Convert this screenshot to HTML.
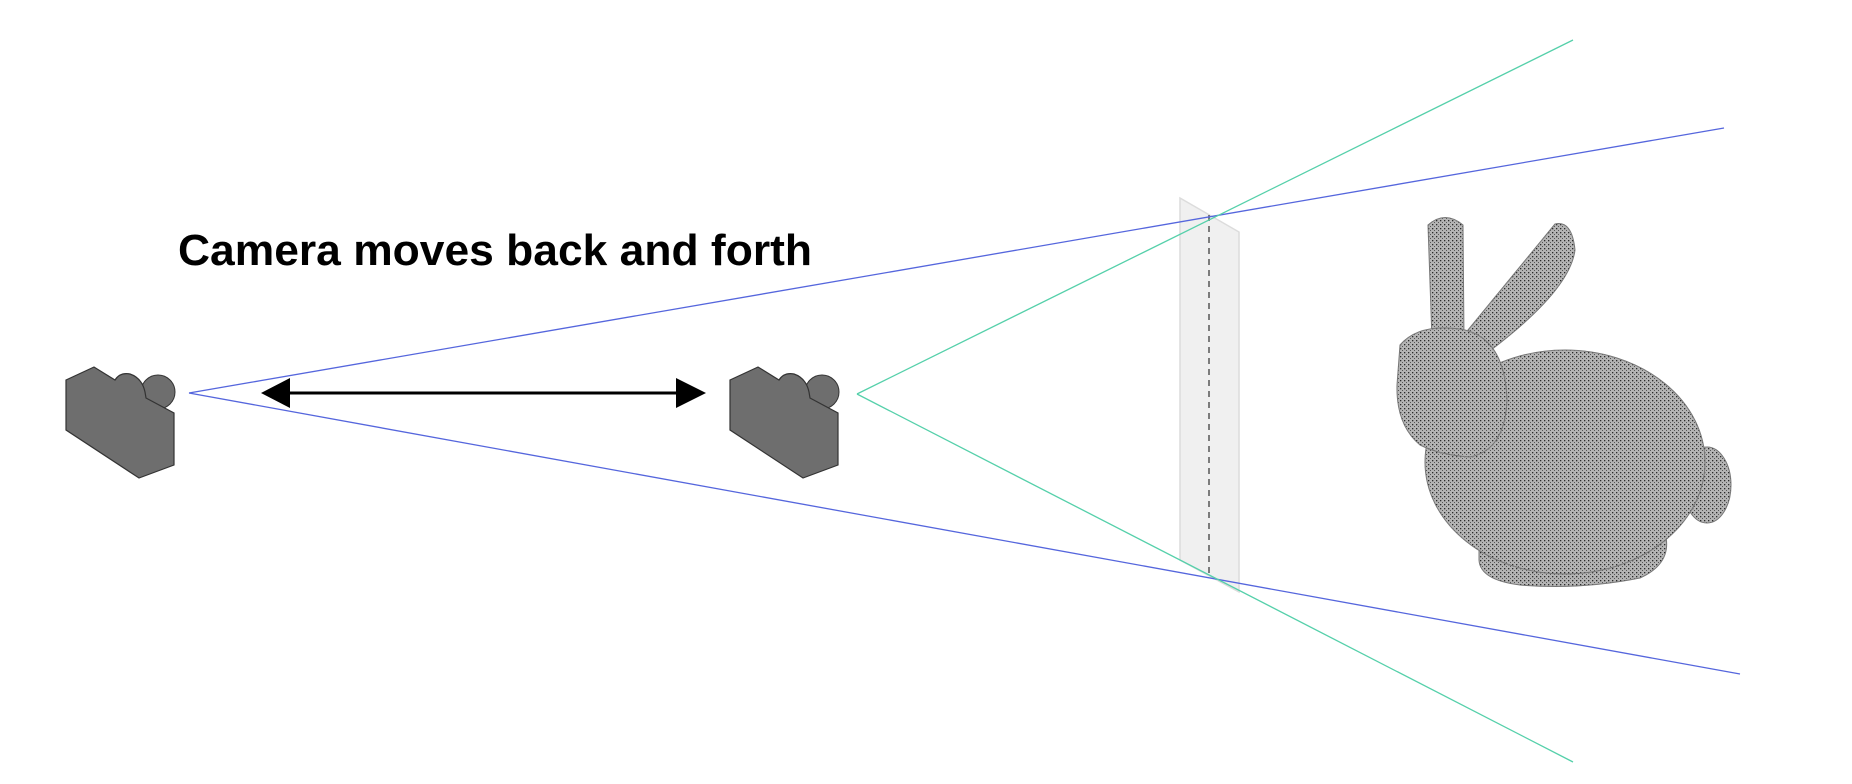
<!DOCTYPE html>
<html><head><meta charset="utf-8"><style>
html,body{margin:0;padding:0;background:#fff;width:1852px;height:784px;overflow:hidden}
</style></head><body>
<svg width="1852" height="784" viewBox="0 0 1852 784" xmlns="http://www.w3.org/2000/svg">
<defs>
<pattern id="dots" width="4" height="4" patternUnits="userSpaceOnUse">
<rect width="4" height="4" fill="#b4b4b4"/>
<rect x="0" y="0" width="1.3" height="1.3" fill="#2a2a2a"/>
<rect x="2" y="2" width="1" height="1" fill="#555"/>
</pattern>
<g id="cam">
<circle cx="158" cy="392" r="17" fill="#6e6e6e" stroke="#333" stroke-width="1"/>
<path d="M66,380 L94,367 L115,380 Q120,372 130,374 Q142,378 145,392 L146,398 L174,413 L174,465 L139,478 L66,430 Z" fill="#6e6e6e" stroke="#333" stroke-width="1.2"/>
</g>
</defs>
<polygon points="1180,198 1239,232 1239,592 1180,560" fill="#f0f0f0" stroke="#dcdcdc" stroke-width="1.5"/>
<line x1="1209" y1="215" x2="1209" y2="578" stroke="#555" stroke-width="1.5" stroke-dasharray="6,5"/>
<line x1="189" y1="393" x2="1724" y2="128" stroke="#5566dd" stroke-width="1.3"/>
<line x1="189" y1="393" x2="1740" y2="674" stroke="#5566dd" stroke-width="1.3"/>
<line x1="857" y1="394" x2="1573" y2="40" stroke="#55d0aa" stroke-width="1.3"/>
<line x1="857" y1="394" x2="1573" y2="762" stroke="#55d0aa" stroke-width="1.3"/>
<use href="#cam"/>
<use href="#cam" transform="translate(664,0)"/>
<line x1="285" y1="393" x2="682" y2="393" stroke="#000" stroke-width="3"/>
<polygon points="261,393 290,378 290,408" fill="#000"/>
<polygon points="706,393 676,378 676,408" fill="#000"/>
<text x="178" y="265" font-family="Liberation Sans, sans-serif" font-weight="bold" font-size="44" textLength="634" lengthAdjust="spacingAndGlyphs" fill="#000">Camera moves back and forth</text>
<g fill="url(#dots)" stroke="#777" stroke-width="1">
<ellipse cx="1707" cy="485" rx="24" ry="38"/>
<path d="M1479,540 Q1490,515 1530,520 L1660,520 Q1680,560 1640,578 Q1580,590 1520,585 Q1480,580 1479,560 Z"/>
<ellipse cx="1565" cy="462" rx="140" ry="112"/>
<path d="M1468,330 L1555,224 Q1572,220 1575,250 Q1570,290 1491,350 Z"/>
<path d="M1428,225 Q1445,210 1463,225 L1464,340 L1432,340 Z"/>
<path d="M1400,345 Q1420,322 1465,330 Q1505,340 1507,400 Q1505,450 1470,457 Q1440,455 1420,445 Q1396,425 1397,385 Z"/>
</g>
</svg>
</body></html>
